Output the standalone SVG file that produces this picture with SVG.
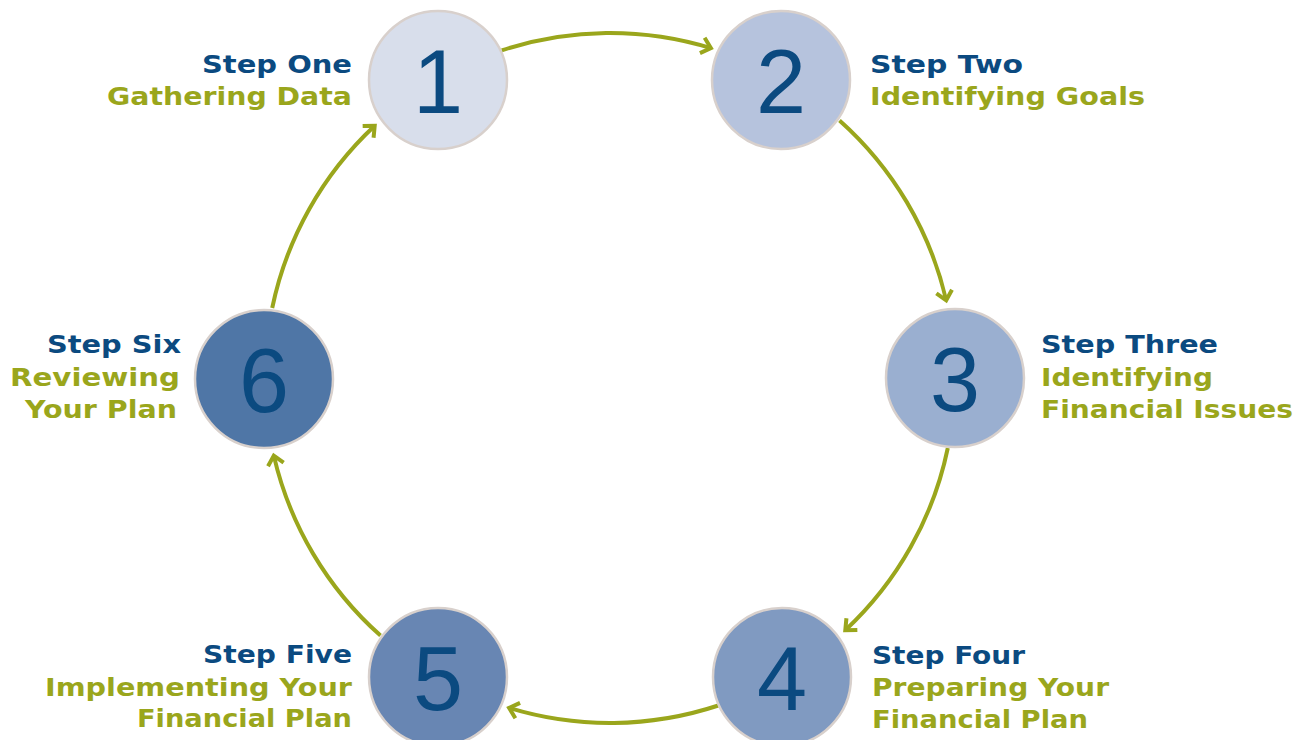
<svg xmlns="http://www.w3.org/2000/svg" width="1308" height="740" viewBox="0 0 1308 740">
<style>
.node circle{stroke:#d8d0cc;stroke-width:2.5}
.num{font-family:"Liberation Sans",Arial,sans-serif;font-size:90px;fill:#0b4a80;text-anchor:middle}
.t{font-family:"DejaVu Sans","Liberation Sans",sans-serif;font-weight:bold;font-size:25px}
.h{fill:#0b4a80}
.s{fill:#9aa61c}
.arc{fill:none;stroke:#9aa61c;stroke-width:4;marker-end:url(#ah)}
</style>
<defs>
<marker id="ah" markerUnits="userSpaceOnUse" viewBox="-14 -10 18 20" markerWidth="18" markerHeight="20" refX="0" refY="0" orient="auto">
<path d="M-9,-8 L0,0 L-9,8" fill="none" stroke="#9aa61c" stroke-width="4"/>
</marker>
</defs>
<rect width="1308" height="740" fill="#ffffff"/>
<g id="connectors">
<path class="arc" d="M501.7,50.4 A345,345 0 0 1 710.9,48.1"/>
<path class="arc" d="M839.5,120.4 A345,345 0 0 1 946.2,300.4"/>
<path class="arc" d="M947.8,448 A345,345 0 0 1 845.3,630.3"/>
<path class="arc" d="M718.3,705.5 A345,345 0 0 1 509.1,707.9"/>
<path class="arc" d="M380.5,635.6 A345,345 0 0 1 273.8,455.6"/>
<path class="arc" d="M272.2,308 A345,345 0 0 1 374.7,125.7"/>
</g>
<g id="node1" class="node">
<circle cx="438" cy="80" r="69" fill="#d8deeb"/>
<text class="num" x="438" y="113">1</text>
<text class="t h" x="202" y="73" textLength="150" lengthAdjust="spacingAndGlyphs">Step One</text>
<text class="t s" x="107" y="105" textLength="245" lengthAdjust="spacingAndGlyphs">Gathering Data</text>
</g>
<g id="node2" class="node">
<circle cx="781" cy="80" r="69" fill="#b6c3dd"/>
<text class="num" x="781" y="113">2</text>
<text class="t h" x="870" y="73" textLength="153" lengthAdjust="spacingAndGlyphs">Step Two</text>
<text class="t s" x="870" y="105" textLength="275" lengthAdjust="spacingAndGlyphs">Identifying Goals</text>
</g>
<g id="node3" class="node">
<circle cx="955" cy="378" r="69" fill="#9aafd0"/>
<text class="num" x="955" y="411">3</text>
<text class="t h" x="1041" y="353" textLength="177" lengthAdjust="spacingAndGlyphs">Step Three</text>
<text class="t s" x="1041" y="386" textLength="172" lengthAdjust="spacingAndGlyphs">Identifying</text>
<text class="t s" x="1041" y="418" textLength="252" lengthAdjust="spacingAndGlyphs">Financial Issues</text>
</g>
<g id="node4" class="node">
<circle cx="782" cy="677" r="69" fill="#809ac1"/>
<text class="num" x="782" y="710">4</text>
<text class="t h" x="872" y="664" textLength="153" lengthAdjust="spacingAndGlyphs">Step Four</text>
<text class="t s" x="872" y="696" textLength="237" lengthAdjust="spacingAndGlyphs">Preparing Your</text>
<text class="t s" x="872" y="728" textLength="216" lengthAdjust="spacingAndGlyphs">Financial Plan</text>
</g>
<g id="node5" class="node">
<circle cx="438" cy="677" r="69" fill="#6886b3"/>
<text class="num" x="438" y="710">5</text>
<text class="t h" x="203" y="663" textLength="149" lengthAdjust="spacingAndGlyphs">Step Five</text>
<text class="t s" x="45" y="696" textLength="307" lengthAdjust="spacingAndGlyphs">Implementing Your</text>
<text class="t s" x="137" y="727" textLength="215" lengthAdjust="spacingAndGlyphs">Financial Plan</text>
</g>
<g id="node6" class="node">
<circle cx="264" cy="379" r="69" fill="#4f76a6"/>
<text class="num" x="264" y="412">6</text>
<text class="t h" x="47" y="353" textLength="134" lengthAdjust="spacingAndGlyphs">Step Six</text>
<text class="t s" x="10" y="386" textLength="170" lengthAdjust="spacingAndGlyphs">Reviewing</text>
<text class="t s" x="25" y="418" textLength="152" lengthAdjust="spacingAndGlyphs">Your Plan</text>
</g>
</svg>
